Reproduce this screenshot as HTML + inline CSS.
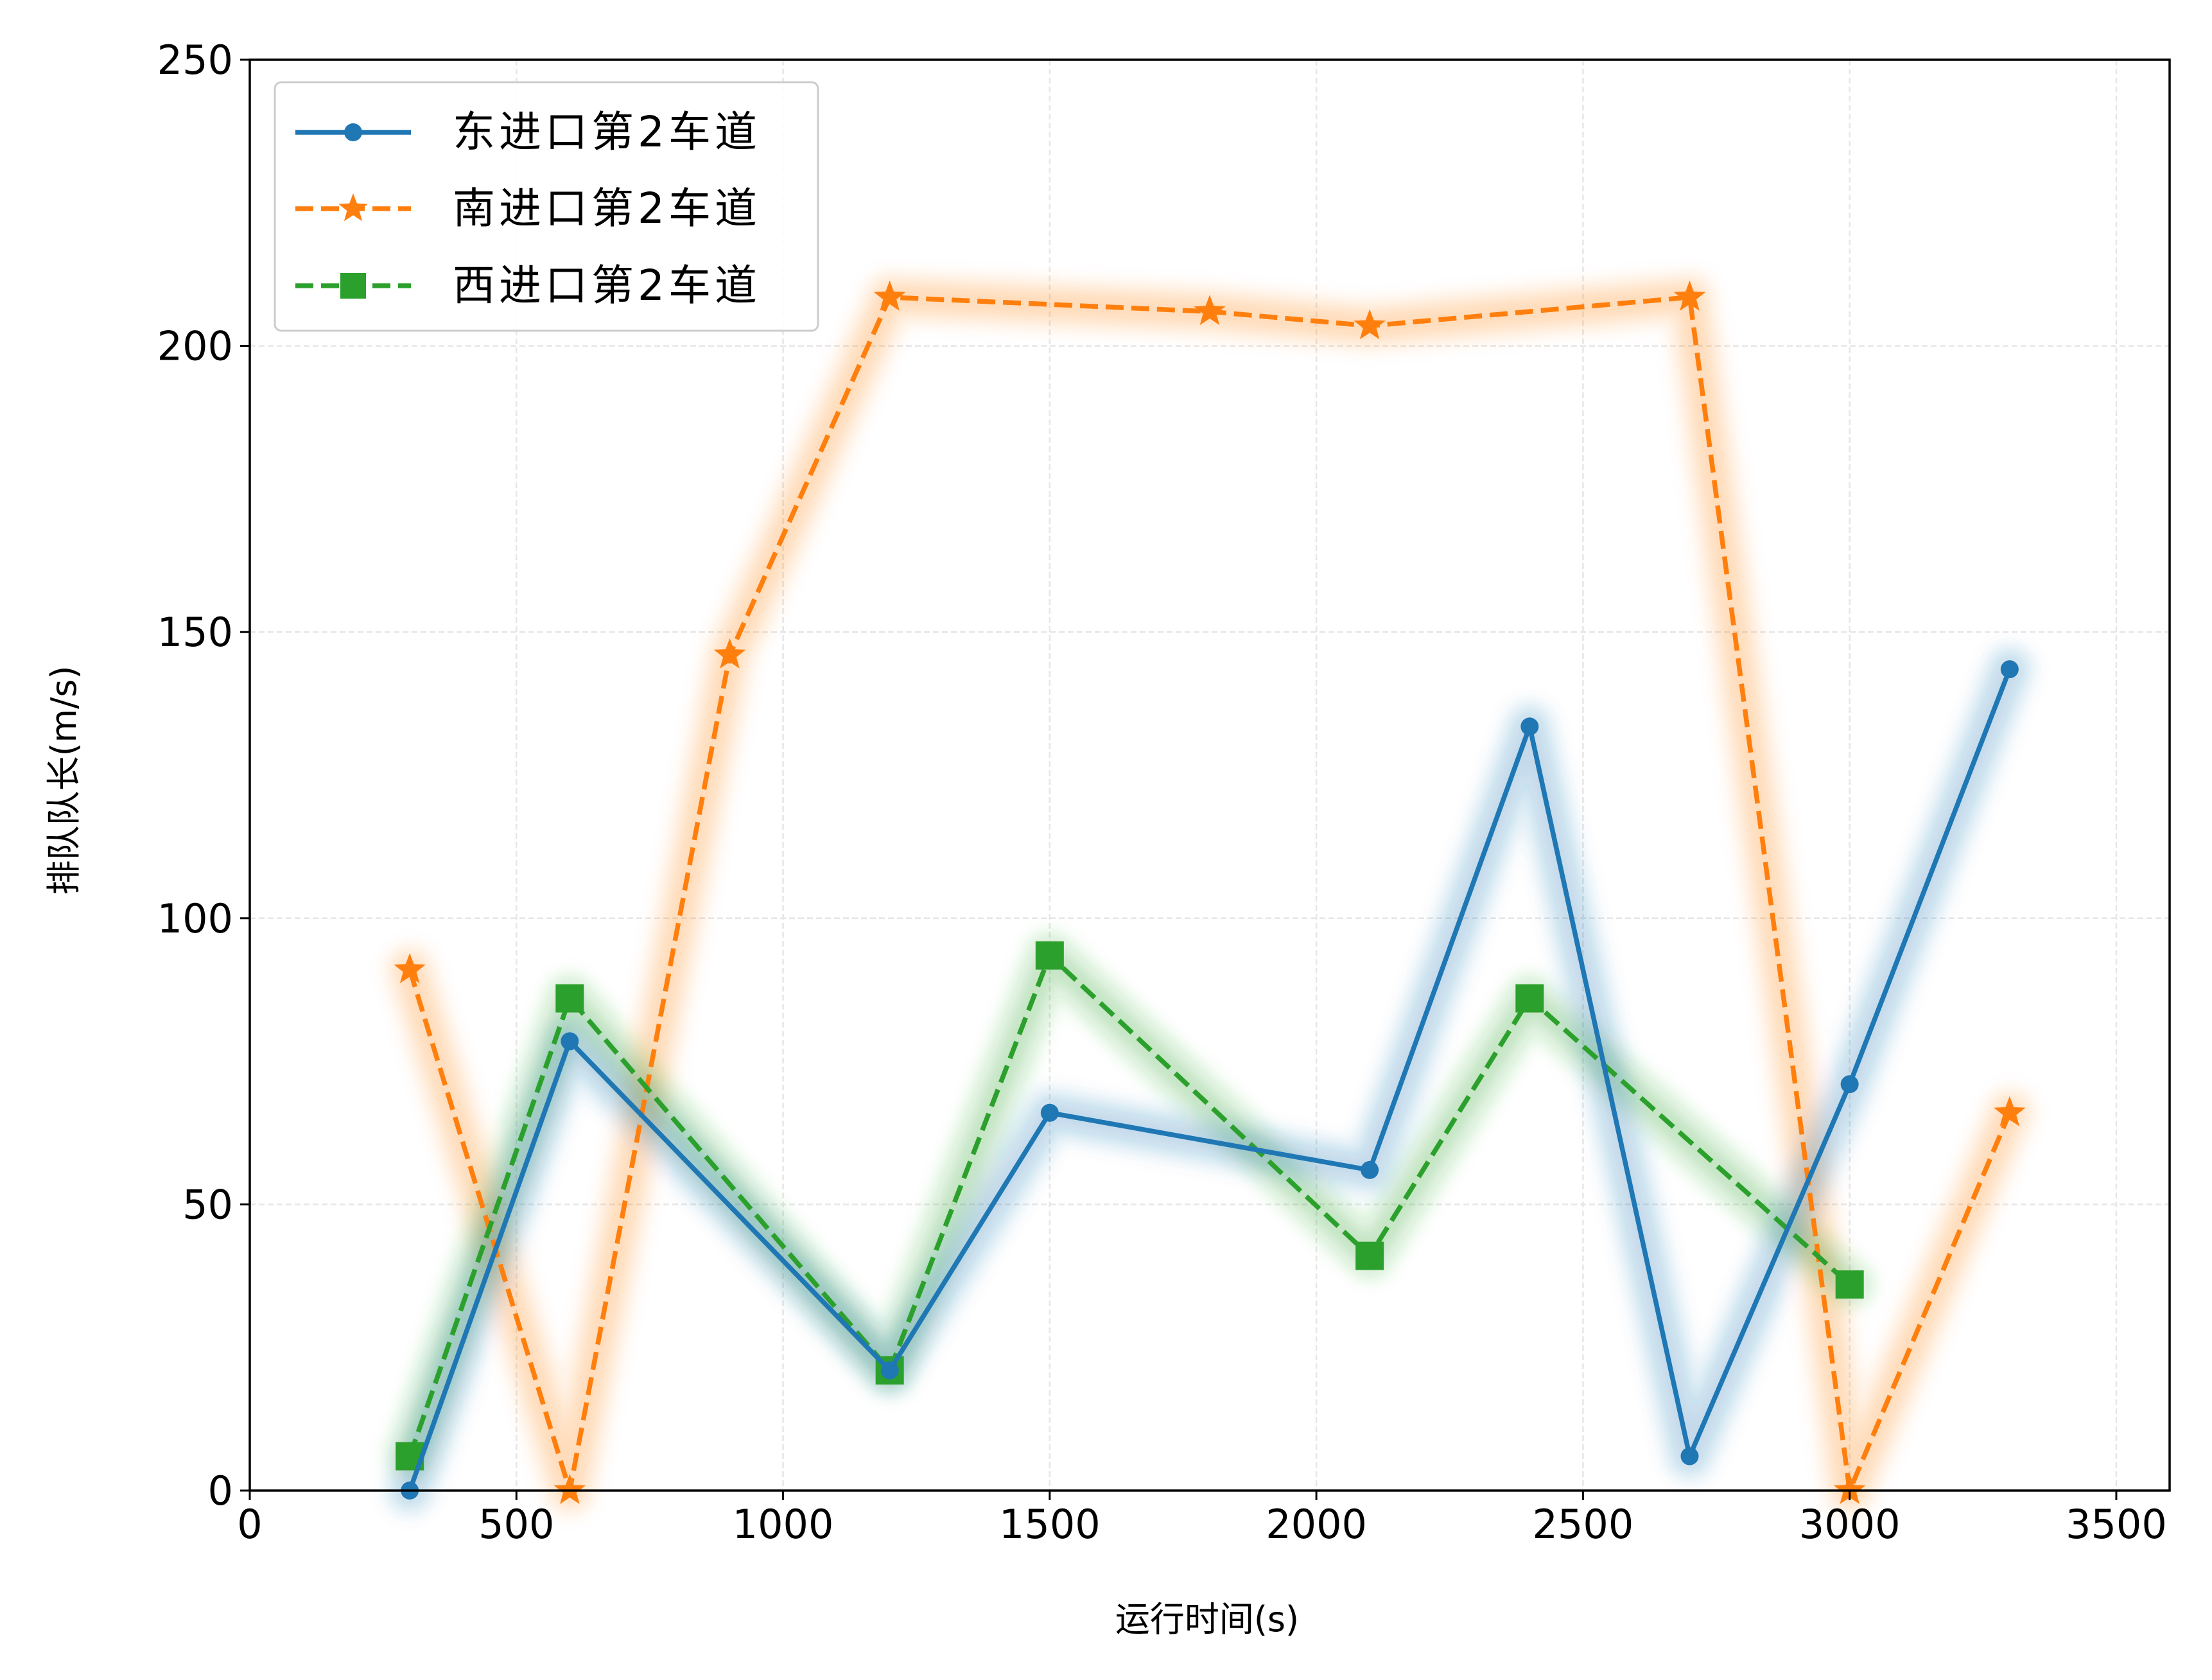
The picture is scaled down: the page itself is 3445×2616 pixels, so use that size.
<!DOCTYPE html>
<html><head><meta charset="utf-8"><style>
html,body{margin:0;padding:0;background:#fff}
svg{display:block}
text{font-family:"DejaVu Sans","Liberation Sans","Noto Sans CJK SC",sans-serif}
</style></head><body>
<svg id="chart" width="3445" height="2616" viewBox="0 0 3445 2616" xmlns="http://www.w3.org/2000/svg">
<defs><filter id="blur" x="-10%" y="-10%" width="120%" height="120%"><feGaussianBlur stdDeviation="10"/></filter></defs>
<rect width="3445" height="2616" fill="#fff"/>
<g id="grid"></g>
<g id="glow" filter="url(#blur)"></g>
<g id="series"></g>
<rect x="389" y="93" width="2990" height="2228" fill="none" stroke="#000" stroke-width="3.5"/>
<g id="axes"></g>
<text x="1880" y="2540" font-size="54" text-anchor="middle" font-family="'Noto Serif CJK SC','Liberation Serif',serif">运行时间(s)</text>
<text transform="translate(118,1215) rotate(-90)" font-size="54" text-anchor="middle" font-family="'Noto Serif CJK SC','Liberation Serif',serif">排队队长(m/s)</text>
<g>
<rect x="428" y="128" width="846" height="387" rx="10" fill="#fff" fill-opacity="0.85" stroke="#ccc" stroke-width="3"/>
<g>
<line x1="460" y1="206" x2="640" y2="206" stroke="#1f77b4" stroke-width="7.5"/>
<circle cx="550" cy="206" r="14" fill="#1f77b4"/>
<text x="705" y="228" font-size="66" letter-spacing="6" font-family="'WenQuanYi Zen Hei','Noto Serif CJK SC',serif">东进口第2车道</text></g>
<g>
<line x1="460" y1="325" x2="640" y2="325" stroke="#ff7f0e" stroke-width="7.5" stroke-dasharray="28,12"/>
<polygon id="legstar" fill="#ff7f0e"/>
<text x="705" y="347" font-size="66" letter-spacing="6" font-family="'WenQuanYi Zen Hei','Noto Serif CJK SC',serif">南进口第2车道</text></g>
<g>
<line x1="460" y1="445" x2="640" y2="445" stroke="#2ca02c" stroke-width="7.5" stroke-dasharray="28,12"/>
<rect x="530" y="425" width="40" height="40" fill="#2ca02c"/>
<text x="705" y="467" font-size="66" letter-spacing="6" font-family="'WenQuanYi Zen Hei','Noto Serif CJK SC',serif">西进口第2车道</text></g>
</g>
</svg>
<script>
const xTicks=[0,500,1000,1500,2000,2500,3000,3500];
const yTicks=[0,50,100,150,200,250];
const eastX=[300,600,1200,1500,2100,2400,2700,3000,3300];
const eastY=[0,78.5,21,66,56,133.5,6,71,143.5];
const southX=[300,600,900,1200,1800,2100,2700,3000,3300];
const southY=[91,0,146,208.5,206,203.5,208.5,0,66];
const westX=[300,600,1200,1500,2100,2400,3000];
const westY=[6,86,21,93.5,41,86,36];

const L=389,R=3379,T=93,B=2321;
const sx=v=>L+(v/3600)*(R-L);
const sy=v=>B-(v/250)*(B-T);
const NS="http://www.w3.org/2000/svg";
function mk(tag,attrs,parent){const e=document.createElementNS(NS,tag);for(const k in attrs)e.setAttribute(k,attrs[k]);parent.appendChild(e);return e;}
const grid=document.getElementById('grid'),axes=document.getElementById('axes'),glow=document.getElementById('glow'),ser=document.getElementById('series');
xTicks.forEach(t=>{
 const gl=mk('line',{x1:sx(t),x2:sx(t),y1:T,y2:B,stroke:'#e6e6e6','stroke-width':2.5,'stroke-dasharray':'9,5'},grid);
 
 
 mk('line',{x1:sx(t),x2:sx(t),y1:B,y2:B+15,stroke:'#000','stroke-width':3},axes);
 const tx=mk('text',{x:sx(t),y:B+74,'font-size':62,'text-anchor':'middle'},axes);tx.textContent=t;
 
 
});
yTicks.forEach(t=>{
 const gl=mk('line',{x1:L,x2:R,y1:sy(t),y2:sy(t),stroke:'#e6e6e6','stroke-width':2.5,'stroke-dasharray':'9,5'},grid);
 
 
 mk('line',{x1:L-15,x2:L,y1:sy(t),y2:sy(t),stroke:'#000','stroke-width':3},axes);
 const tx=mk('text',{x:L-26,y:sy(t)+22,'font-size':62,'text-anchor':'end'},axes);tx.textContent=t;
 
 
});
function starPts(cx,cy,r){let p=[];for(let i=0;i<10;i++){const a=-Math.PI/2+i*Math.PI/5,rr=i%2?r*0.42:r;p.push((cx+rr*Math.cos(a)).toFixed(1)+','+(cy+rr*Math.sin(a)).toFixed(1));}return p.join(' ');}
document.getElementById('legstar').setAttribute('points',starPts(550,325,24));
function draw(xs,ys,color,dash,marker,name){
 const pts=xs.map((x,i)=>sx(x)+','+sy(ys[i])).join(' ');
 [[90,0.08],[60,0.1],[36,0.12]].forEach(([w,o])=>{
  const g=mk('polyline',{points:pts,fill:'none',stroke:color,'stroke-width':w,'stroke-opacity':o,'stroke-linejoin':'round','stroke-linecap':'round'},glow);
  
  
 });
 const ln=mk('polyline',{points:pts,fill:'none',stroke:color,'stroke-width':7.5,'stroke-dasharray':dash||'none'},ser);
 
 
 xs.forEach((x,i)=>{
  const cx=sx(x),cy=sy(ys[i]);let m;
  if(marker==='o')m=mk('circle',{cx:cx,cy:cy,r:14,fill:color},ser);
  else if(marker==='s')m=mk('rect',{x:cx-22,y:cy-22,width:44,height:44,fill:color},ser);
  else m=mk('polygon',{points:starPts(cx,cy,26),fill:color},ser);
  
  
 });
}
draw(southX,southY,'#ff7f0e','28,12','*','south-lane2');
draw(westX,westY,'#2ca02c','28,12','s','west-lane2');
draw(eastX,eastY,'#1f77b4',null,'o','east-lane2');
</script>
</body></html>
